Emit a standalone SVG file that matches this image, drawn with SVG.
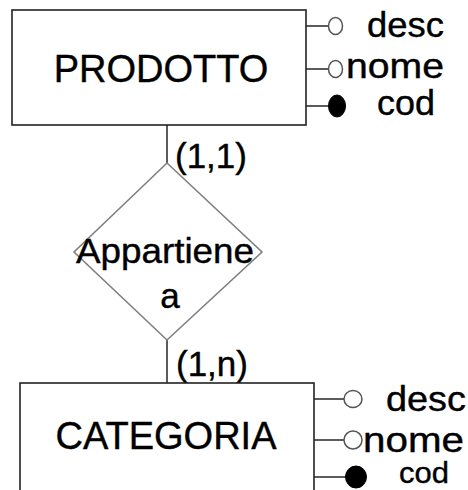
<svg xmlns="http://www.w3.org/2000/svg" width="468" height="490" viewBox="0 0 468 490">
  <style>
    .ent { fill: #fff; stroke: #222; stroke-width: 1.6; }
    .rel { fill: #fff; stroke: #808080; stroke-width: 1.6; }
    .link { fill: none; stroke: #333; stroke-width: 1.6; }
    .attr { fill: #fff; stroke: #555; stroke-width: 1.5; }
    .key { fill: #000; stroke: #000; stroke-width: 1; }
    text { font-family: "Liberation Sans", Arial, sans-serif; fill: #000; stroke: #000; stroke-width: 0.4; }
    .big { font-size: 38px; }
    .lbl { font-size: 35px; }
    .card { font-size: 35px; }
  </style>
  <rect width="468" height="490" fill="#fff"/>

  <g id="connectors">
    <line class="link" x1="167" y1="125" x2="167" y2="163"/>
    <line class="link" x1="167" y1="340" x2="167" y2="383"/>
    <!-- attribute stems, PRODOTTO -->
    <line class="link" x1="306" y1="26" x2="328" y2="26"/>
    <line class="link" x1="306" y1="69" x2="328" y2="69"/>
    <line class="link" x1="306" y1="106" x2="328" y2="106"/>
    <!-- attribute stems, CATEGORIA -->
    <line class="link" x1="314" y1="399" x2="344" y2="399"/>
    <line class="link" x1="314" y1="440" x2="344" y2="440"/>
    <line class="link" x1="314" y1="477" x2="346" y2="477"/>
  </g>

  <g id="prodotto">
    <rect class="ent" x="12" y="10" width="294" height="115"/>
    <text class="big" x="161" y="82" text-anchor="middle">PRODOTTO</text>
    <g id="prodotto-desc">
      <ellipse class="attr" cx="335.5" cy="26" rx="7" ry="8.5"/>
      <text class="lbl" x="367" y="37" textLength="77" lengthAdjust="spacingAndGlyphs">desc</text>
    </g>
    <g id="prodotto-nome">
      <ellipse class="attr" cx="335.5" cy="69" rx="7" ry="8.5"/>
      <text class="lbl" x="346" y="78" textLength="98" lengthAdjust="spacingAndGlyphs">nome</text>
    </g>
    <g id="prodotto-cod">
      <ellipse class="key" cx="337" cy="106" rx="8.5" ry="11"/>
      <text class="lbl" x="377" y="115" textLength="58" lengthAdjust="spacingAndGlyphs">cod</text>
    </g>
  </g>

  <g id="appartiene">
    <polygon class="rel" points="167,163 262,252 167,340 74,252"/>
    <text class="lbl" x="165" y="263" text-anchor="middle" textLength="178" lengthAdjust="spacingAndGlyphs">Appartiene</text>
    <text class="lbl" x="170" y="308" text-anchor="middle">a</text>
  </g>

  <g id="cardinalities">
    <text class="card" x="175" y="168">(1,1)</text>
    <text class="card" x="176" y="376">(1,n)</text>
  </g>

  <g id="categoria">
    <rect class="ent" x="20" y="383" width="294" height="120"/>
    <text class="big" x="166" y="449" text-anchor="middle">CATEGORIA</text>
    <g id="categoria-desc">
      <ellipse class="attr" cx="353" cy="399" rx="9" ry="8.5"/>
      <text class="lbl" x="386" y="411" textLength="80" lengthAdjust="spacingAndGlyphs">desc</text>
    </g>
    <g id="categoria-nome">
      <ellipse class="attr" cx="353" cy="440" rx="9" ry="9"/>
      <text class="lbl" x="363" y="452" textLength="101" lengthAdjust="spacingAndGlyphs">nome</text>
    </g>
    <g id="categoria-cod">
      <ellipse class="key" cx="356" cy="477" rx="10.5" ry="11"/>
      <text class="lbl" x="399" y="483" textLength="50" lengthAdjust="spacingAndGlyphs" style="font-size:30px">cod</text>
    </g>
  </g>
</svg>
